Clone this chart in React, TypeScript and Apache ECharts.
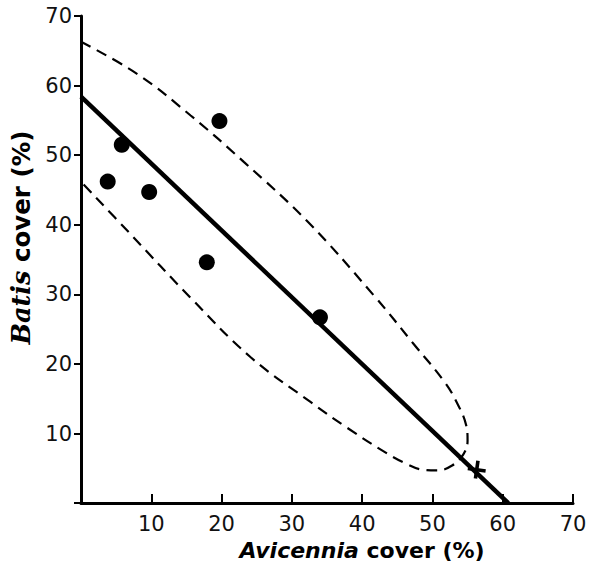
import React, { useEffect, useRef } from "react";
import * as echarts from "echarts";

// Observed data points (Avicennia cover %, Batis cover %)
const avicennia = [3.8, 5.8, 9.7, 19.7, 17.9, 34.0];
const batis = [46.2, 51.5, 44.7, 54.9, 34.6, 26.7];

// Fitted regression line end points
const fitX = [0, 60.8];
const fitY = [58.4, 0];

// Cross marker on the line
const crossX = [56.3];
const crossY = [4.8];

// Dashed confidence ellipse (upper branch, tip, lower branch)
const ellipseX = [0, 8.1, 15.6, 23.2, 32.2, 41.7, 47.3, 51.8, 53.7, 54.8, 55.0, 54.4, 52.8, 50.7, 48.6, 46.4, 43.6, 37.9, 32.7, 24.1, 15.6, 7.1, 0];
const ellipseY = [66.3, 61.6, 55.7, 49.0, 40.5, 29.8, 22.9, 17.3, 14.0, 11.2, 9.0, 7.0, 5.4, 4.7, 4.8, 5.6, 7.1, 10.8, 14.5, 21.0, 29.5, 38.6, 46.2];

const ticks = [10, 20, 30, 40, 50, 60, 70];

export default function App() {
  const ref = useRef<HTMLDivElement>(null);
  useEffect(() => {
    if (!ref.current) return;
    const chart = echarts.init(ref.current, undefined, { renderer: "svg" });
    const labelFmt = (v: number) => (ticks.includes(v) ? String(v) : "");
    const axisLabel = {
      formatter: labelFmt,
      fontFamily: "DejaVu Sans",
      fontSize: 21,
      color: "#111",
    };
    chart.setOption({
      animation: false,
      backgroundColor: "#fff",
      grid: { left: 81, right: 20, top: 16, bottom: 57 },
      xAxis: {
        type: "value",
        min: 0,
        max: 70,
        interval: 10,
        splitLine: { show: false },
        axisLine: { show: true, lineStyle: { color: "#000", width: 3 } },
        axisTick: { show: true, inside: true, length: 9, lineStyle: { color: "#000", width: 2 } },
        axisLabel: { ...axisLabel, margin: 10 },
        name: "{i|Avicennia}{b| cover (%)}",
        nameLocation: "middle",
        nameGap: 30,
        nameTextStyle: {
          padding: [0, 0, 0, 70],
          rich: {
            i: { fontFamily: "DejaVu Sans", fontStyle: "italic", fontWeight: "bold", fontSize: 22, color: "#000" },
            b: { fontFamily: "DejaVu Sans", fontWeight: "bold", fontSize: 22, color: "#000" },
          },
        },
      },
      yAxis: {
        type: "value",
        min: 0,
        max: 70,
        interval: 10,
        splitLine: { show: false },
        axisLine: { show: true, lineStyle: { color: "#000", width: 3 } },
        axisTick: { show: true, inside: false, length: 7, lineStyle: { color: "#000", width: 2 } },
        axisLabel: { ...axisLabel, margin: 9 },
        name: "{i|Batis}{b| cover (%)}",
        nameLocation: "middle",
        nameRotate: 90,
        nameGap: 46,
        nameTextStyle: {
          padding: [0, 0, 0, 44],
          rich: {
            i: { fontFamily: "DejaVu Serif", fontStyle: "italic", fontWeight: "bold", fontSize: 25.5, color: "#000" },
            b: { fontFamily: "DejaVu Sans", fontWeight: "bold", fontSize: 24.5, color: "#000" },
          },
        },
      },
      series: [
        {
          type: "line",
          data: ellipseX.map((x, i) => [x, ellipseY[i]]),
          smooth: 0.4,
          symbol: "none",
          lineStyle: { color: "#000", width: 2.2, type: [11, 7] },
          z: 2,
        },
        {
          type: "line",
          data: fitX.map((x, i) => [x, fitY[i]]),
          symbol: "none",
          lineStyle: { color: "#000", width: 4.5 },
          z: 3,
        },
        {
          type: "scatter",
          data: avicennia.map((x, i) => [x, batis[i]]),
          symbol: "circle",
          symbolSize: 16,
          itemStyle: { color: "#000", opacity: 1 },
          z: 4,
        },
        {
          type: "scatter",
          data: crossX.map((x, i) => [x, crossY[i]]),
          symbol: "path://M4.8,0h2.4v4.8h4.8v2.4h-4.8v4.8h-2.4v-4.8h-4.8v-2.4h4.8z",
          symbolSize: 18,
          symbolRotate: -8,
          itemStyle: { color: "#000", opacity: 1 },
          z: 5,
        },
      ],
    });
    return () => chart.dispose();
  }, []);
  return <div ref={ref} style={{ width: 593, height: 566, position: "absolute", left: 0, top: 0 }} />;
}
